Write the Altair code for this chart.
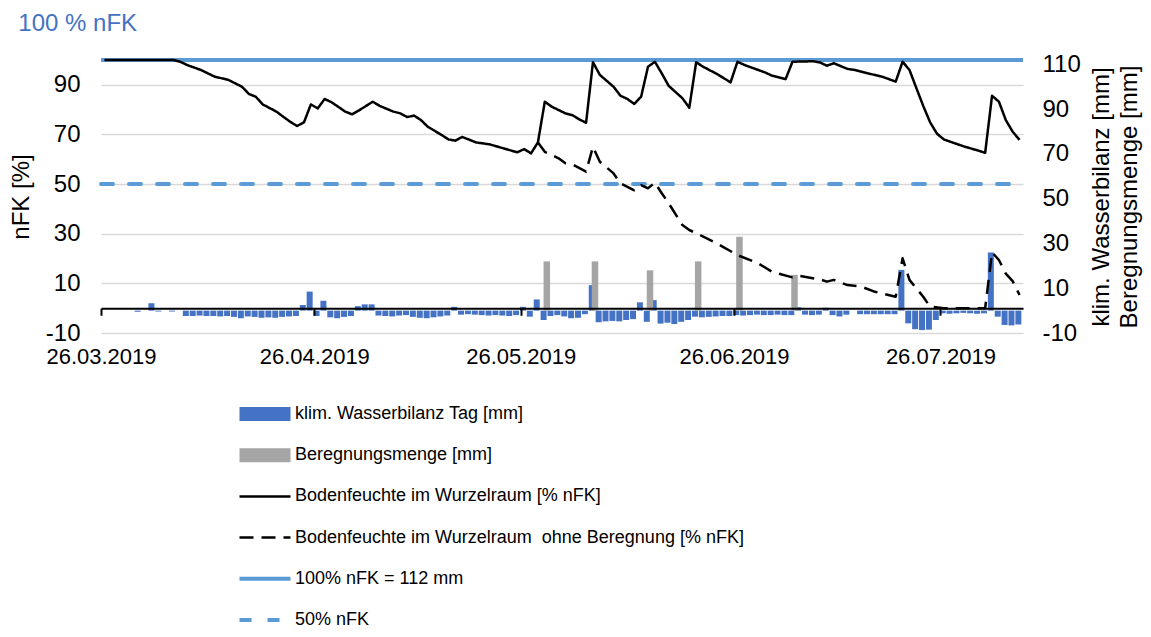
import altair as alt
import pandas as pd

FONT = "Liberation Sans"
START = "2019-03-26"
END = "2019-08-07"

SERIES = [
    "klim. Wasserbilanz Tag [mm]",
    "Beregnungsmenge [mm]",
    "Bodenfeuchte im Wurzelraum [% nFK]",
    "Bodenfeuchte im Wurzelraum\u00a0 ohne Beregnung [% nFK]",
    "100% nFK = 112 mm",
    "50% nFK",
]
COLORS = ["#4472c4", "#a5a5a5", "#000000", "#000000", "#5b9bd5", "#5b9bd5"]
DASHES = [[1, 0], [1, 0], [1, 0], [14, 8], [1, 0], [12, 16]]
WIDTHS = [14, 14, 2.5, 2.5, 4, 4]

# klim. Wasserbilanz, one value per day from 26.03.2019 (mm)
kwb = [0, 0, 0, 0, 0, -0.5, 0, 3.3, -0.4, 0, -0.4, 0,
       -2.4, -2.4, -2.2, -2.4, -2.4, -2.6, -2.4, -2.8, -3.4, -2.6, -2.8, -3.2, -3.0, -3.2, -2.8, -2.6,
       -2.4, 2.5, 8.5, -2.4, 4.4,
       -3.0, -3.4, -2.8, -2.4,
       2.0, 2.8, 2.8,
       -2.2, -2.4, -2.6, -2.2, -2.0, -2.8, -3.2, -3.4, -3.0, -2.6, -2.2,
       1.7,
       -1.8, -1.6, -1.8, -2.0, -2.2, -2.0, -2.2, -2.4, -2.0,
       1.7, -2.7, 5.0, -4.2,
       -2.4, -2.0, -2.6, -3.4, -3.2, -1.6,
       11.4,
       -5.2, -4.8, -4.6, -4.8, -4.2, -3.8,
       3.7, -5.0, 4.7,
       -5.8, -5.4, -6.0, -5.0, -4.2,
       -2.7, -3.0, -2.8, -2.6, -2.4, -2.4, -2.0, -2.2, -2.0, -1.8, -2.0, -2.0, -1.8, -2.0, -2.0,
       1.5, -1.8, -2.0, -1.8, 1.3, -2.0, -2.6, -1.8, 0,
       -1.6, -1.6, -1.6, -1.6, -1.6, -1.6,
       18.2,
       -5.7, -8.3, -8.7, -8.5, -4.2,
       -1.2, -1.4, -1.2, -1.0, -1.2, -1.4, -1.2,
       26.0,
       -2.7, -6.4, -6.6, -6.2]

# Beregnung (irrigation): day offset from 26.03.2019 and amount (mm)
ber_days = [64, 71, 79, 86, 92, 100]
ber_mm = [22, 22, 18, 22, 33, 16]

# Bodenfeuchte im Wurzelraum [% nFK]
bf_days = [0, 10, 11, 12, 14, 16, 18, 20, 21, 22, 23, 25, 26, 27, 28, 29, 30, 31, 32, 33,
           35, 36, 37, 39, 40, 42, 43, 44, 45, 46, 47, 49, 50, 51, 52, 54, 56, 58, 60, 61,
           62, 63, 64, 65, 67, 68, 69, 70, 71, 72, 74, 75, 76, 77, 78, 79, 80, 81, 82, 84,
           85, 86, 87, 89, 91, 92, 93, 96, 97, 99, 100, 103, 104, 105, 106, 108, 109, 111, 113, 115,
           116, 117, 118, 119, 120, 121, 122, 123, 125, 127, 128, 129, 130, 131, 132, 133]
bf_vals = [100, 100, 99.3, 98.0, 96.0, 93.3, 92.0, 89.2, 86.3, 85.2, 82.1, 79.2, 77.1, 75.1, 73.4, 74.9, 82.1, 80.5, 84.3, 83.0,
           79.2, 78.1, 79.7, 83.2, 81.5, 79.2, 78.5, 77.0, 77.6, 75.8, 73.1, 69.8, 68.0, 67.5, 69.0, 66.8, 66.0, 64.4, 62.8, 64.1,
           62.4, 66.8, 83.2, 81.2, 78.5, 77.8, 76.1, 74.7, 99.1, 94.0, 89.2, 85.6, 84.3, 82.3, 85.2, 97.3, 99.3, 94.6, 89.6, 84.6,
           80.8, 99.1, 97.3, 94.4, 91.0, 99.3, 98.0, 95.0, 93.7, 92.3, 99.3, 99.5, 99.0, 97.7, 98.7, 96.4, 96.0, 94.6, 93.3, 91.3,
           99.3, 96.0, 88.7, 81.5, 74.9, 70.3, 68.0, 67.0, 65.1, 63.5, 62.6, 85.6, 83.2, 75.8, 71.1, 67.8]

# Bodenfeuchte im Wurzelraum ohne Beregnung [% nFK]
bfo_days = [63, 64, 66, 67, 68, 70, 71, 72, 74, 75, 77, 78, 79, 80, 81, 82, 84, 85, 86, 89,
            92, 95, 97, 100, 101, 104, 105, 106, 108, 110, 112, 115, 116, 117, 119, 120, 122, 128, 129, 130,
            131, 132, 133]
bfo_vals = [66.8, 63.0, 60.4, 58.4, 58.0, 55.0, 65.0, 59.0, 54.3, 50.3, 47.5, 49.6, 48.3, 50.6, 46.3, 42.3, 33.5, 31.5, 30.2, 26.1,
            21.4, 18.1, 14.7, 12.4, 13.0, 11.6, 10.7, 11.4, 9.3, 8.7, 6.6, 4.6, 20.1, 11.4, 4.6, 0.6, 0, 0, 22.5, 19.4,
            13.9, 10.9, 5.3]

ref_dates = [START, END]
full_vals = [100, 100]
half_vals = [50, 50]

x_ticks = ["2019-03-26", "2019-04-26", "2019-05-26", "2019-06-26", "2019-07-26"]
left_ticks = [-10, 10, 30, 50, 70, 90]
right_ticks = [-10, 10, 30, 50, 70, 90, 110]


def day_to_ts(d):
    return (pd.Timestamp(START) + pd.Timedelta(days=d, hours=12)).strftime("%Y-%m-%dT%H:%M:%S")


rows_bar = []
for d, v in enumerate(kwb):
    rows_bar.append({"date": day_to_ts(d), "series": SERIES[0], "value": v})
for d, v in zip(ber_days, ber_mm):
    rows_bar.append({"date": day_to_ts(d), "series": SERIES[1], "value": v})
df_bar = pd.DataFrame(rows_bar)

rows_line = []
for d, v in zip(bf_days, bf_vals):
    rows_line.append({"date": day_to_ts(d), "series": SERIES[2], "value": v})
for d, v in zip(bfo_days, bfo_vals):
    rows_line.append({"date": day_to_ts(d), "series": SERIES[3], "value": v})
for dtx, v in zip(ref_dates, full_vals):
    rows_line.append({"date": dtx + "T00:00:00", "series": SERIES[4], "value": v})
for dtx, v in zip(ref_dates, half_vals):
    rows_line.append({"date": dtx + "T00:00:00", "series": SERIES[5], "value": v})
df_line = pd.DataFrame(rows_line)


def dt(s):
    y, m, d = (int(p) for p in s.split("-"))
    return alt.DateTime(year=y, month=m, date=d)


tick_vals = [dt(s) for s in x_ticks]
x_scale = alt.Scale(domain=[dt(START), dt(END)], nice=False, padding=0)

# legend symbol: a 51 px horizontal stroke drawn from a small symbol size (keeps rows compact)
legend = alt.Legend(
    title=None, orient="none", legendX=155, legendY=345, direction="vertical",
    symbolType="M-12.75,0H12.75", symbolSize=16, symbolFillColor="transparent", symbolOpacity=1,
    labelFont=FONT, labelFontSize=18, labelColor="black", labelLimit=900,
    rowPadding=23.2, labelOffset=21,
)
stroke_enc = alt.Stroke("series:N", scale=alt.Scale(domain=SERIES, range=COLORS), legend=legend)
dash_enc = alt.StrokeDash("series:N", scale=alt.Scale(domain=SERIES, range=DASHES), legend=legend)
width_enc = alt.StrokeWidth("series:N", scale=alt.Scale(type="ordinal", domain=SERIES, range=WIDTHS), legend=legend)
# bar fill scale only knows the two bar series (kept apart from the line legend)
fill_enc = alt.Fill("series:N", scale=alt.Scale(domain=SERIES[:2], range=COLORS[:2]), legend=None)

label_axis = alt.Axis(orient="bottom", values=tick_vals, format="%d.%m.%Y", domain=False, ticks=False,
                      tickSize=0, labelPadding=13, labelFontSize=22, labelColor="black", grid=False,
                      labelFlush=False, labelOverlap=False, title=None)
zero_axis = alt.Axis(orient="bottom", values=tick_vals, offset=-24.75, labels=False, domain=True,
                     domainColor="black", domainWidth=2, ticks=True, tickColor="black", tickWidth=2,
                     tickSize=7, grid=False, zindex=1, title=None)

right_axis = alt.Axis(orient="right", values=right_ticks, title=["klim. Wasserbilanz [mm]", "Beregnungsmenge [mm]"],
                      titleAngle=270, grid=False, domain=False, ticks=False, labelPadding=19,
                      labelFontSize=24, labelColor="black", labelExpr="'' + datum.value",
                      titleFontSize=24, titleColor="black", titleLimit=1000,
                      titleFontWeight="normal", titlePadding=5, titleLineHeight=28)
left_axis = alt.Axis(orient="left", values=left_ticks, title="nFK [%]", grid=True, gridColor="#d9d9d9",
                     gridWidth=1.5, domain=False, ticks=False, labelPadding=21, labelFontSize=24,
                     labelColor="black", labelExpr="'' + datum.value", titleFontSize=24, titleColor="black",
                     titleFontWeight="normal", titlePadding=12, titleLimit=1000)

y_right = alt.Y("value:Q", scale=alt.Scale(domain=[-10, 112]), axis=right_axis)
y_left = alt.Y("value:Q", scale=alt.Scale(domain=[-10, 100]), axis=left_axis)

x_bar = alt.X("date:T", scale=x_scale, axis=label_axis)
x_line = alt.X("date:T", scale=x_scale, axis=zero_axis)

blue_bars = alt.Chart(df_bar).transform_filter(alt.datum.series == SERIES[0]).mark_bar(
    size=6, xOffset=-1.2).encode(x=x_bar, y=y_right, fill=fill_enc)
gray_bars = alt.Chart(df_bar).transform_filter(alt.datum.series == SERIES[1]).mark_bar(
    size=6.5, xOffset=2).encode(x=x_bar, y=y_right, fill=fill_enc)
bars = alt.layer(blue_bars, gray_bars)


def line_layer(name, **kw):
    return alt.Chart(df_line).transform_filter(alt.datum.series == name).mark_line(
        strokeJoin="round", **kw).encode(
        x=x_line, y=y_left, stroke=stroke_enc, strokeDash=dash_enc, strokeWidth=width_enc, order="date:T")


l100 = line_layer(SERIES[4])
l50 = line_layer(SERIES[5], strokeCap="round")
lsolid = line_layer(SERIES[2])
ldash = line_layer(SERIES[3])
lines = alt.layer(l100, l50, lsolid, ldash)

chart = alt.layer(bars, lines).resolve_scale(y="independent").resolve_axis(x="independent").properties(
    width=922, height=273,
    autosize=alt.AutoSizeParams(type="none"),
    padding={"left": 93, "top": 52, "right": 120, "bottom": 296},
    title=alt.Title("100 % nFK", anchor="start", frame="bounds", fontSize=24, color="#4472c4",
                    font=FONT, fontWeight="normal", offset=16, dx=9),
).configure_view(stroke=None).configure_axis(labelFont=FONT, titleFont=FONT).configure_line(strokeJoin="round")

chart.save("out.html", embed_options={"renderer": "svg", "actions": False})
